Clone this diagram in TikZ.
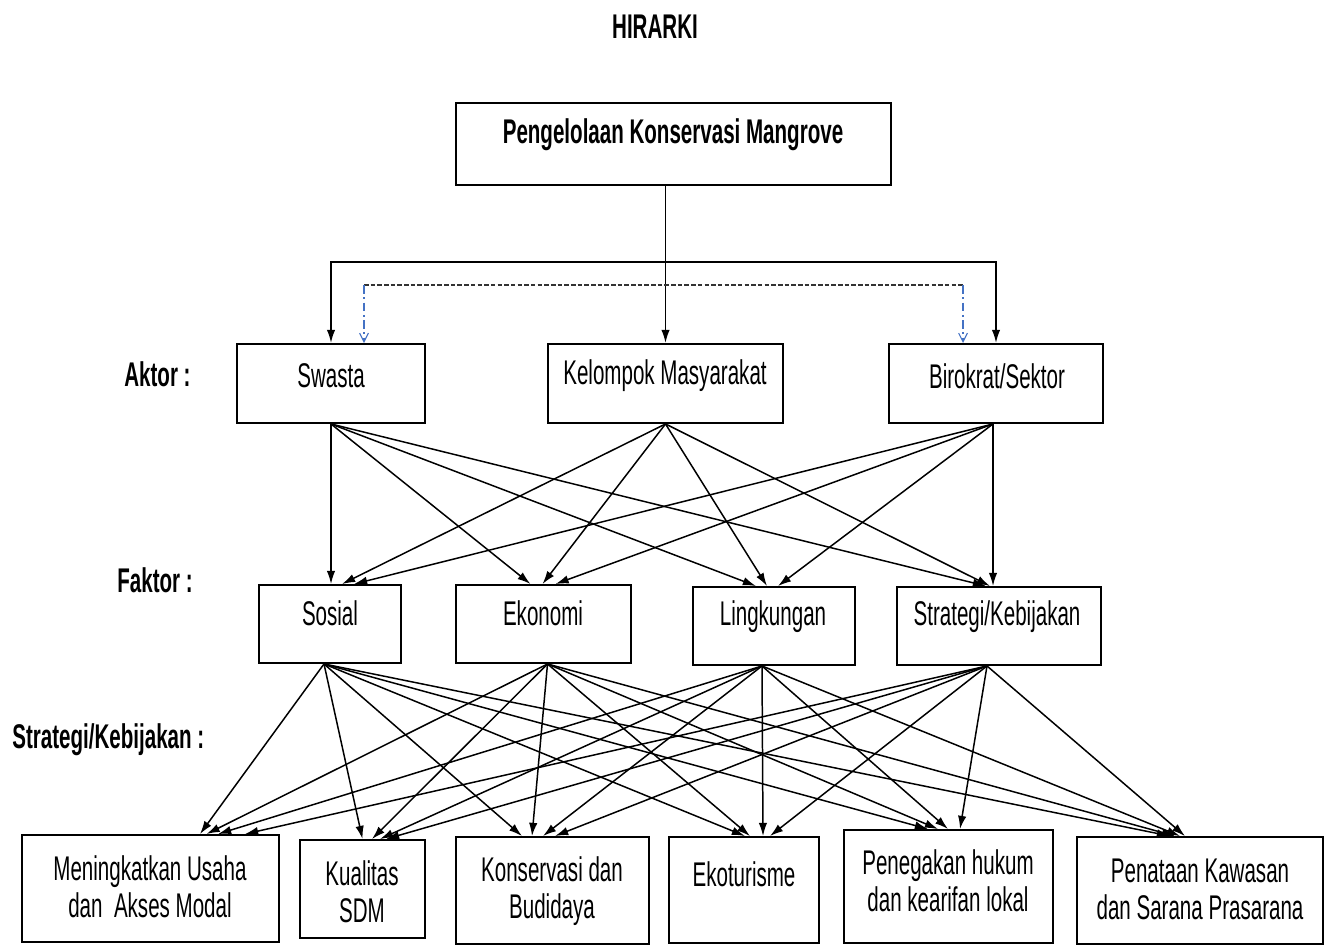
\documentclass[tikz,border=0pt]{standalone}
\usepackage{fontspec}
\setmainfont{Liberation Sans}[FakeStretch=0.6]
\usetikzlibrary{arrows.meta,calc,fit}
\definecolor{dashblue}{RGB}{68,114,196}
\begin{document}
\begin{tikzpicture}[x=0.02cm,y=-0.02cm,
  box/.style={draw,line width=1.1pt,inner sep=0pt},
  txt/.style={font=\fontsize{19.5}{21}\selectfont,align=center,inner sep=0pt},
  btxt/.style={font=\fontsize{19.5}{21}\selectfont\bfseries,align=center,inner sep=0pt},
  conn/.style={line width=0.85pt,-{Latex[length=7.5pt,width=4.8pt]}},
  bluearr/.style={dashblue,line width=0.6pt,dash pattern=on 5pt off 2pt on 1pt off 2pt,-{Straight Barb[length=5pt,width=5pt]}},
  blackdash/.style={line width=1.2pt,dash pattern=on 2.6pt off 1.2pt,black!80}]
\useasboundingbox (0,0) rectangle (1327,945);

% title and row labels
\node[btxt] (title) at (655,27) {HIRARKI};
\node[btxt,anchor=west] (laktor) at (124,374) {Aktor :};
\node[btxt,anchor=west] (lfaktor) at (117,580) {Faktor :};
\node[btxt,anchor=west] (lstrat) at (12,740) {Strategi/Kebijakan :};

% goal
\node[box,fit={(456,103) (891,185)}] (top) {};
\node[btxt] (ttop) at (673,135) {Pengelolaan Konservasi Mangrove};

% actors
\node[box,fit={(237,344) (425,423)}] (swasta) {};
\node[box,fit={(548,344) (783,423)}] (kel) {};
\node[box,fit={(889,344) (1103,423)}] (biro) {};
\node[txt] (tswasta) at (331,376) {Swasta};
\node[txt] (tkel) at (665,376) {Kelompok Masyarakat};
\node[txt] (tbiro) at (997,376) {Birokrat/Sektor};

% factors
\node[box,fit={(259,585) (401,663)}] (sos) {};
\node[box,fit={(456,585) (631,663)}] (eko) {};
\node[box,fit={(693,587) (855,665)}] (ling) {};
\node[box,fit={(897,587) (1101,665)}] (strat) {};
\node[txt] (tsos) at (330,613) {Sosial};
\node[txt] (teko) at (543,613) {Ekonomi};
\node[txt] (tling) at (773,617) {Lingkungan};
\node[txt] (tstrat) at (997,617) {Strategi/Kebijakan};

% strategies
\node[box,fit={(22,835) (279,942)}] (m1) {};
\node[box,fit={(300,840) (425,938)}] (m2) {};
\node[box,fit={(456,837) (649,944)}] (m3) {};
\node[box,fit={(669,837) (819,943)}] (m4) {};
\node[box,fit={(844,830) (1053,943)}] (m5) {};
\node[box,fit={(1077,837) (1323,944)}] (m6) {};
\node[txt] (tm1) at (150,887) {Meningkatkan Usaha\\dan\ \ Akses Modal};
\node[txt] (tm2) at (362,892) {Kualitas\\SDM};
\node[txt] (tm3) at (552,891) {Konservasi dan\\Budidaya};
\node[txt] (tm4) at (744,874) {Ekoturisme};
\node[txt] (tm5) at (948,881) {Penegakan hukum\\dan kearifan lokal};
\node[txt] (tm6) at (1200,889) {Penataan Kawasan\\dan Sarana Prasarana};

% goal to actors
\coordinate (hj) at (665,262);
\draw[conn,line width=1pt] (top.south -| kel.north) -- (kel.north);
\draw[line width=1pt,{Latex[length=7.5pt,width=4.8pt]}-{Latex[length=7.5pt,width=4.8pt]}]
  (swasta.north) -- (swasta.north |- hj) -- (biro.north |- hj) -- (biro.north);

% dashed link between actors
\coordinate (dL) at (364,285);
\coordinate (dR) at (963,285);
\draw[blackdash] (dL) -- (dR);
\draw[bluearr] (dL) -- (dL |- swasta.north);
\draw[bluearr] (dR) -- (dR |- biro.north);

% actors to factors
\draw[conn] (swasta.south) -- ($(sos.north)+(1,0)$);
\draw[conn] (swasta.south) -- ($(eko.north)+(-13,0)$);
\draw[conn] (swasta.south) -- ($(ling.north)+(-18,0)$);
\draw[conn] (swasta.south) -- ($(strat.north)+(-13,0)$);
\draw[conn] (kel.south) -- ($(sos.north)+(12,0)$);
\draw[conn] (kel.south) -- ($(eko.north)+(-1,0)$);
\draw[conn] (kel.south) -- ($(ling.north)+(-7,0)$);
\draw[conn] (kel.south) -- ($(strat.north)+(-9,0)$);
\draw[conn] ($(biro.south)+(-3,0)$) -- ($(sos.north)+(24,0)$);
\draw[conn] ($(biro.south)+(-3,0)$) -- ($(eko.north)+(12,0)$);
\draw[conn] ($(biro.south)+(-3,0)$) -- ($(ling.north)+(4,0)$);
\draw[conn] ($(biro.south)+(-3,0)$) -- ($(strat.north)+(-6,0)$);

% factors to strategies
\coordinate (s1) at ($(sos.south)+(-6,0)$);
\coordinate (s2) at ($(eko.south)+(4,0)$);
\coordinate (s3) at ($(ling.south)+(-12,0)$);
\coordinate (s4) at ($(strat.south)+(-12,0)$);

\draw[conn] (s1) -- ($(m1.north)+(49.5,0)$);
\draw[conn] (s1) -- ($(m2.north)+(0,0)$);
\draw[conn] (s1) -- ($(m3.north)+(-30.5,0)$);
\draw[conn] (s1) -- ($(m4.north)+(1,0)$);
\draw[conn] (s1) -- ($(m5.north)+(-20.5,0)$);
\draw[conn] (s1) -- ($(m6.north)+(-30,0)$);

\draw[conn] (s2) -- ($(m1.north)+(56,0)$);
\draw[conn] (s2) -- ($(m2.north)+(9.5,0)$);
\draw[conn] (s2) -- ($(m3.north)+(-20.5,0)$);
\draw[conn] (s2) -- ($(m4.north)+(6,0)$);
\draw[conn] (s2) -- ($(m5.north)+(-10.5,0)$);
\draw[conn] (s2) -- ($(m6.north)+(-25,0)$);

\draw[conn] (s3) -- ($(m1.north)+(67.5,0)$);
\draw[conn] (s3) -- ($(m2.north)+(17.5,0)$);
\draw[conn] (s3) -- ($(m3.north)+(-9.5,0)$);
\draw[conn] (s3) -- ($(m4.north)+(19,0)$);
\draw[conn] (s3) -- ($(m5.north)+(-0.5,0)$);
\draw[conn] (s3) -- ($(m6.north)+(-20,0)$);

\draw[conn] (s4) -- ($(m1.north)+(94.5,0)$);
\draw[conn] (s4) -- ($(m2.north)+(23.5,0)$);
\draw[conn] (s4) -- ($(m3.north)+(2.5,0)$);
\draw[conn] (s4) -- ($(m4.north)+(26,0)$);
\draw[conn] (s4) -- ($(m5.north)+(11.5,0)$);
\draw[conn] (s4) -- ($(m6.north)+(-15,0)$);
\end{tikzpicture}
\end{document}
